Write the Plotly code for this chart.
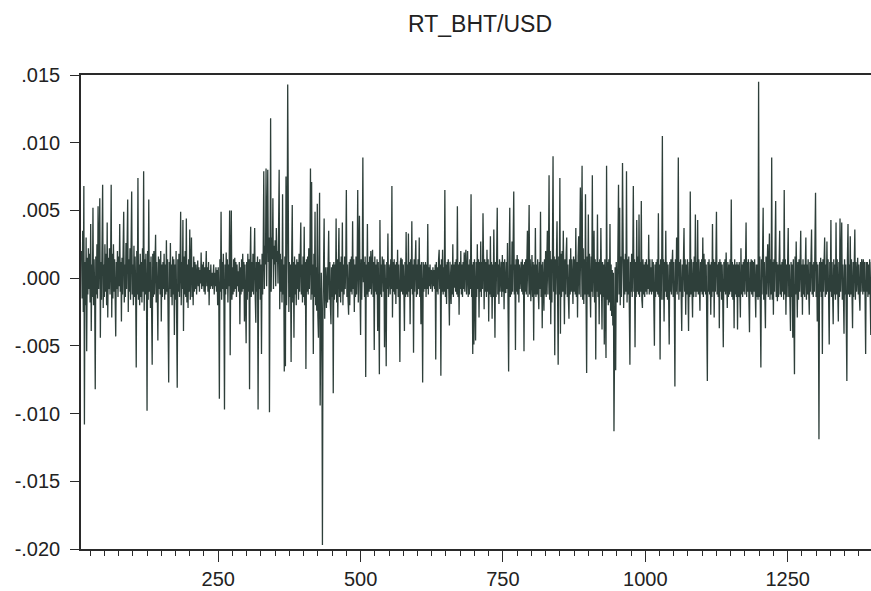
import plotly.graph_objects as go

# Series RT_BHT/USD, values, in units of 0.0001
FIRST_OBS = 10
ret_e4 = [
20,-15,35,-25,68,-108,12,-20,30,-54,
15,-12,22,-8,18,-18,40,-39,10,-14,
52,-20,14,-10,-82,16,-12,25,-15,53,
-8,20,59,-44,12,-16,28,69,-22,10,
-14,25,-10,18,-20,41,-29,15,-8,22,
-12,10,69,-29,18,-15,25,-10,14,-18,
-43,12,-8,20,-14,16,-6,40,-10,12,
-32,15,-12,22,49,-18,10,-14,26,-8,
12,58,-25,14,-10,22,-16,18,64,-12,
10,-20,24,-14,16,-8,-66,20,-12,74,
-16,10,-20,18,-14,12,-18,22,-10,79,
-24,14,-12,18,-8,-98,20,-16,58,-10,
12,-22,16,-10,-64,18,-14,20,-12,10,
32,-18,12,-10,-46,16,-8,14,-12,20,
-32,10,-14,12,-8,18,-16,10,-12,28,
-10,14,-18,-77,12,-8,26,-14,10,-20,
16,-12,14,-42,10,-16,20,-12,-81,14,
-10,18,-14,10,49,-20,12,-8,43,-39,
16,-12,20,-14,44,-18,10,-22,14,-10,
36,-16,12,30,-14,8,-20,16,-10,12,
-8,10,-12,6,13,-6,8,-10,6,-4,
19,-8,10,-6,12,-10,8,-12,6,20,
-6,8,-10,12,-20,6,-8,10,-6,4,
-8,6,10,-12,4,-6,8,-10,6,-20,
8,-12,-89,14,-10,49,-16,12,-8,18,
-14,-97,10,-12,19,-8,14,-18,10,-6,
50,-57,12,50,-16,8,-12,14,-10,15,
-8,12,-14,10,-6,5,-10,12,-34,8,
-12,14,-10,18,-8,12,-32,10,-14,-48,
12,-16,18,-10,14,-82,10,38,-14,12,
-10,18,-12,8,37,-14,-33,12,-10,16,
-97,12,-8,14,-16,10,-56,18,-12,20,
79,-8,24,10,81,-6,28,80,12,30,
-99,22,118,-10,30,14,59,-8,24,10,
28,-6,37,12,20,-4,26,80,-23,18,
-10,14,-18,62,-12,10,-69,16,-65,75,
-20,18,143,-16,-25,12,-14,10,-62,14,
54,-18,12,-44,16,-12,10,-20,14,-8,
12,-16,18,-10,14,41,-12,10,-18,16,
-14,38,-20,12,-67,14,-10,16,-12,22,
-8,14,81,-16,71,-12,10,-56,18,-14,
49,-20,8,-24,55,-28,-44,6,63,-94,
-20,4,-30,-197,-25,6,44,-30,8,-5,
-22,8,-18,10,35,-16,12,-20,-34,8,
-14,10,-85,12,-16,10,-12,44,-18,14,
-29,10,37,-14,12,-18,16,-10,41,-20,
10,-12,16,-8,12,65,-14,10,-16,-27,
12,-20,14,-10,16,-12,42,-8,14,-25,
10,-14,16,-12,8,65,-18,12,46,-10,
-42,14,-16,10,89,-3,12,-14,16,-73,
10,-12,40,-14,12,-10,16,-8,20,-12,
10,21,-14,12,-53,16,-10,10,-12,14,
-39,12,-16,-71,43,-12,10,-14,16,11,
-10,14,-51,10,-12,-65,12,-8,33,-14,
10,5,-12,14,-8,68,-29,12,-10,14,
-12,10,-19,12,-8,21,-14,10,-12,-62,
12,15,-10,14,-12,10,-8,-39,12,-14,
34,-12,10,-14,33,-10,12,-34,14,-8,
42,-12,10,-55,14,-10,12,28,-14,10,
-12,14,-8,30,-14,10,-34,12,-10,-77,
12,-10,10,-8,12,-14,10,-8,40,-12,
8,-6,10,-8,6,5,-10,8,-6,6,
-8,10,-60,12,-10,8,-12,14,21,-8,
10,-72,14,-10,21,-12,8,-10,65,-14,
10,-19,12,-8,14,-10,-35,12,-8,-19,
10,-12,25,-14,10,-7,12,-10,14,-12,
53,-14,10,-27,12,-8,20,-12,10,-14,
12,-8,19,-10,14,21,-12,10,20,-14,
10,-12,14,-8,62,-14,10,-56,12,-49,
14,-10,-46,12,-14,25,-8,14,-29,12,
-10,27,-14,12,-8,48,-12,-23,14,-10,
12,-14,21,-10,14,-32,10,-12,31,-14,
12,-30,10,-14,36,-10,-44,12,-14,16,
52,-12,10,-19,14,-10,5,12,-14,17,
-10,12,-23,14,-10,-11,12,-8,26,-14,
-69,12,52,-14,10,-12,27,-10,14,64,
-12,10,-53,14,-10,17,-12,14,-18,10,
-8,0,12,-10,14,-12,10,-54,12,-10,
14,-12,10,35,-14,10,54,-12,14,-17,
10,17,-14,12,-46,10,-12,37,-14,10,
-12,14,-10,-23,12,-8,49,-14,10,-37,
12,-10,-24,14,-12,20,-14,10,35,-12,
14,76,-16,20,-34,14,-18,22,90,-10,
16,-57,14,-12,18,42,-14,-64,16,-12,
74,-41,18,-14,20,-10,35,-16,-34,14,
-12,18,30,-14,10,-16,-30,14,-12,22,
-10,14,-12,-19,16,-10,14,-12,37,-14,
12,-29,16,31,-12,20,67,-14,18,83,
-16,22,-19,14,-12,62,-18,-70,16,-12,
47,-14,18,-12,-29,16,-10,76,-14,12,
35,-18,14,-60,12,-10,47,-14,12,-34,
14,-12,37,-16,-38,12,-14,10,-49,14,
-12,-59,83,-16,12,-20,14,-18,40,-24,
10,-28,6,-35,4,-113,-25,8,-68,12,
-10,-18,14,69,-12,52,-20,16,-14,12,
85,-16,-22,14,-12,18,-10,79,-18,14,
-12,16,-14,-64,12,-10,18,-14,12,68,
-10,14,-51,12,-14,43,-10,16,-12,47,
-14,12,-10,57,-16,-22,14,-12,10,-14,
12,-10,14,-12,10,-8,32,-12,14,-10,
8,-12,14,-10,12,-16,-50,10,-14,12,
-10,14,-12,48,-14,10,-60,14,-16,20,
105,-16,14,-32,12,-10,35,-14,12,-16,
10,-14,-49,12,-10,14,-12,10,21,-14,
12,-16,-80,14,-10,30,-12,14,89,-16,
12,-10,14,-12,-39,10,-14,12,37,-10,
14,-27,10,-12,14,-10,-39,12,-14,64,
-12,14,-10,-29,12,-14,16,-10,47,-14,
12,-10,43,-12,14,-16,-24,12,-10,14,
-12,30,-14,18,-10,14,-12,10,-16,-76,
12,-10,14,-12,10,-27,12,-14,40,-10,
14,-29,12,-10,14,49,-12,10,-14,12,
-37,14,-10,12,-16,10,-14,-51,12,-10,
14,-12,19,-10,-22,12,-14,10,-12,14,
-10,58,-14,12,-16,10,-37,14,-12,10,
-14,12,-38,10,-14,12,-16,-29,22,-12,
10,-14,12,-10,14,-12,10,41,-14,12,
-10,14,-16,-40,12,-10,14,-12,13,-14,
12,-10,14,-12,-29,10,-14,10,-16,145,
-14,16,-20,-66,14,-12,18,52,-16,12,
-14,-37,16,-12,10,25,-14,12,33,-16,
14,-12,89,-16,12,-27,14,-10,12,57,
-14,12,-17,10,-14,16,35,-12,10,-14,
12,-10,14,-16,65,-12,14,-27,10,-14,
12,37,-14,10,-16,-39,12,-14,10,-44,
14,-18,-71,16,-12,27,-14,-29,12,-16,
14,-10,12,35,-14,10,-27,14,-12,10,
-14,12,30,-16,10,-12,14,-10,-27,12,
-10,14,36,-12,10,-14,12,-10,16,63,
-14,12,-32,10,-16,-119,12,-10,15,-14,
12,-56,14,-10,12,30,-14,10,-12,27,
-10,14,-16,-49,12,-10,43,-14,12,-16,
-34,14,-12,10,-16,41,-12,14,-10,-32,
12,-14,44,-10,12,41,-16,10,-12,-41,
14,-12,10,-18,-76,14,40,-12,10,-14,
31,-12,14,-10,-37,12,-14,10,36,-16,
12,-10,14,15,-12,10,-14,-24,12,-10,
14,10,-12,14,-10,12,-16,-56,12,-10,
12,-14,10,-12,14,-10,-42,12,-10,14,
]

returns = [v / 10000 for v in ret_e4]
obs = list(range(FIRST_OBS, FIRST_OBS + len(returns)))

x_ticks = [250, 500, 750, 1000, 1250]
x_ticktext = ["250", "500", "750", "1000", "1250"]
y_ticks = [-0.020, -0.015, -0.010, -0.005, 0.000, 0.005, 0.010, 0.015]
y_ticktext = ["-.020", "-.015", "-.010", "-.005", ".000", ".005", ".010", ".015"]

AXIS = "#2a2a2a"
FONT = "Liberation Sans, Arial, sans-serif"

fig = go.Figure()
fig.add_trace(go.Scatter(
    x=obs, y=returns, mode="lines",
    line=dict(color="#2e3f3a", width=1.3),
    hoverinfo="skip", showlegend=False,
))

fig.update_layout(
    width=871, height=591,
    margin=dict(l=81, r=0, t=75, b=42, autoexpand=False),
    paper_bgcolor="white", plot_bgcolor="white",
    font=dict(family=FONT, color="#222222", size=20),
    title=dict(text="RT_BHT/USD", x=480 / 871, xref="container", xanchor="center",
               y=1 - 24 / 591, yref="container", yanchor="middle",
               font=dict(family=FONT, size=23, color="#222222")),
    showlegend=False,
)
fig.update_xaxes(
    range=[9, 1396.4], tickvals=x_ticks, ticktext=x_ticktext,
    showgrid=False, zeroline=False, automargin=False,
    showline=True, linecolor=AXIS, linewidth=1.5, mirror=True,
    ticks="outside", ticklen=11, tickwidth=1.3, tickcolor=AXIS,
    ticklabelstandoff=0,
    minor=dict(dtick=25, tick0=0, ticks="outside", ticklen=5, tickwidth=1.2, tickcolor=AXIS),
    tickfont=dict(family=FONT, size=20, color="#222222"),
)
fig.update_yaxes(
    range=[-0.020, 0.015], tickvals=y_ticks, ticktext=y_ticktext,
    showgrid=False, zeroline=False, automargin=False,
    showline=True, linecolor=AXIS, linewidth=1.5, mirror=False,
    ticks="outside", ticklen=9, tickwidth=1.3, tickcolor=AXIS,
    ticklabelstandoff=6,
    tickfont=dict(family=FONT, size=20, color="#222222"),
)

fig.write_html(
    "out.html",
    config={"displayModeBar": False},
    post_script="document.body.style.margin='0';document.body.style.overflow='hidden';",
)
